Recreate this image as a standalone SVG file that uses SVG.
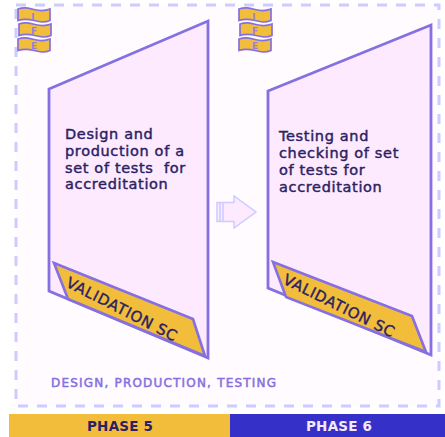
<svg xmlns="http://www.w3.org/2000/svg" width="445" height="437" viewBox="0 0 445 437">
<style>
text{font-family:"DejaVu Sans","Liberation Sans",sans-serif}
.card{fill:#fdeaff;stroke:#8470e0;stroke-width:2.8;stroke-linejoin:miter}
.rib{fill:#f3bd3c;stroke:#8470e0;stroke-width:2.6;stroke-linejoin:miter}
.flag{fill:#f3bd3c;stroke:#8470e0;stroke-width:1.7}
.ft{font-size:9px;font-weight:bold;fill:#9a80d8;text-anchor:middle}
.body{font-size:14.5px;letter-spacing:.65px;fill:#2c1f63;stroke:#2c1f63;stroke-width:.45;white-space:pre}
.val{font-size:15px;fill:#2c1f63;stroke:#2c1f63;stroke-width:.4}
</style>
<defs>
<g id="flag"><path class="flag" d="M0 0C6 -2 10 -1 16 0.500S26 2.500 32 0V11.500C26 14 22 13 16 11.500S6 9.500 0 11.500Z"/></g>
</defs>
<rect width="445" height="437" fill="#fff"/>
<rect x="16" y="5" width="423" height="401" fill="#fffbff" stroke="#ccccff" stroke-width="3" stroke-dasharray="10 9"/>
<g id="connectors"><path d="M217 202.500H234V196L256 212L234 228V221.500H217Z" fill="#fdeaff" stroke="#ccccff" stroke-width="1.500"/><path d="M220 202.500V221.500M223 202.500V221.500" stroke="#ccccff" stroke-width="1.500" fill="none"/></g>
<g id="card1"><path class="card" d="M49 89L208 21V358L49 291Z"/><path class="rib" d="M54 263L193 319L205 356L68 299Z"/>
<text class="body"><tspan x="65" y="139">Design and</tspan><tspan x="65" y="156">production of a</tspan><tspan x="65" y="173">set of tests  for</tspan><tspan x="65" y="189">accreditation</tspan></text>
<text class="val" transform="translate(65 286) rotate(27)" textLength="122">VALIDATION SC</text></g>
<g id="card2"><path class="card" d="M268 91L431 25V355L268 288Z"/><path class="rib" d="M273 262L412 316L426 352L286 297Z"/>
<text class="body"><tspan x="279" y="141">Testing and</tspan><tspan x="279" y="158">checking of set</tspan><tspan x="279" y="175">of tests for</tspan><tspan x="279" y="192">accreditation</tspan></text>
<text class="val" transform="translate(282 283) rotate(26.500)" textLength="122">VALIDATION SC</text></g>
<g id="iso1"><use href="#flag" x="18" y="9"/><use href="#flag" x="19" y="24"/><use href="#flag" x="18" y="39"/><text class="ft" x="33" y="20">I</text><text class="ft" x="34" y="34">F</text><text class="ft" x="34" y="49">E</text></g>
<g id="iso2"><use href="#flag" x="239" y="9"/><use href="#flag" x="240" y="24"/><use href="#flag" x="239" y="39"/><text class="ft" x="254" y="20">I</text><text class="ft" x="255" y="34">F</text><text class="ft" x="255" y="49">E</text></g>
<text x="51" y="387" font-size="12" fill="#8470e0" stroke="#8470e0" stroke-width=".5" textLength="225">DESIGN, PRODUCTION, TESTING</text>
<g id="phase5"><rect x="9" y="414" width="221" height="23" fill="#f3bd3c"/><text x="120" y="431" font-size="13.500" font-weight="bold" text-anchor="middle" fill="#2c1f63" textLength="66">PHASE 5</text></g>
<g id="phase6"><rect x="230" y="414" width="215" height="23" fill="#3430c8"/><text x="339" y="431" font-size="13.500" font-weight="bold" text-anchor="middle" fill="#f4e8fb" textLength="66">PHASE 6</text></g>
</svg>
